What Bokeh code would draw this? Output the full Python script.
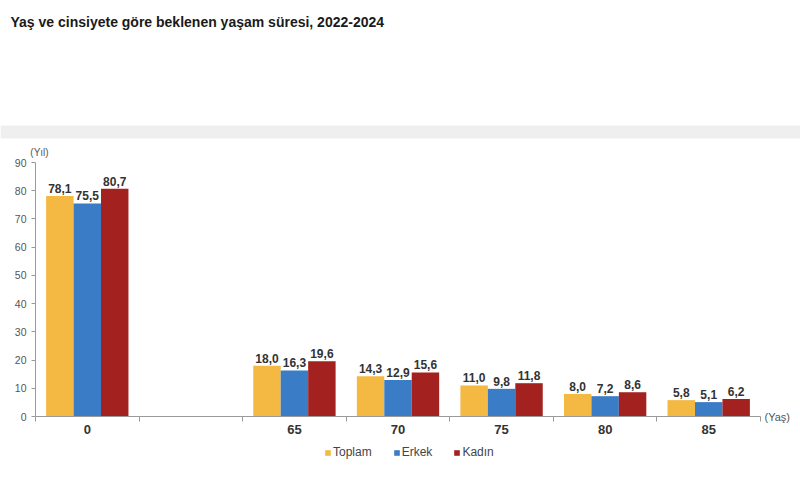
from bokeh.plotting import figure
from bokeh.models import (ColumnDataSource, FixedTicker, Legend, LegendItem, Range1d,
                          Label, BoxAnnotation)
from bokeh.core.properties import value
from bokeh.embed import file_html
from bokeh.resources import INLINE

# ---- data ----
title_text = "Yaş ve cinsiyete göre beklenen yaşam süresi, 2022-2024"
slots = ["0", "", "65", "70", "75", "80", "85"]          # x-axis slots (one empty)
age_groups = ["0", "65", "70", "75", "80", "85"]
toplam = [78.1, 18.0, 14.3, 11.0, 8.0, 5.8]
erkek = [75.5, 16.3, 12.9, 9.8, 7.2, 5.1]
kadin = [80.7, 19.6, 15.6, 11.8, 8.6, 6.2]
series_names = ["Toplam", "Erkek", "Kadın"]
y_ticks = [0, 10, 20, 30, 40, 50, 60, 70, 80, 90]

colors = ["#F3B943", "#3B7CC6", "#A3211F"]
FONT = "Liberation Sans"

# ---- layout geometry (pixels) ----
W, H = 800, 477
AX_X0, AX_X1 = 35, 760      # x-axis pixel extent
AX_Y0, AX_Y90 = 416, 162    # pixel rows of y = 0 and y = 90
n = len(slots)
ux = (AX_X1 - AX_X0) / n
uy = (AX_Y0 - AX_Y90) / 90
x_start, x_end = -AX_X0 / ux, (W - AX_X0) / ux
y_start, y_end = -(H - AX_Y0) / uy, AX_Y0 / uy

p = figure(width=W, height=H, x_range=Range1d(x_start, x_end),
           y_range=Range1d(y_start, y_end),
           output_backend="svg", toolbar_location=None, min_border=0)
p.grid.visible = False
p.outline_line_color = None

# header (screen units from the canvas bottom-left)
p.add_layout(BoxAnnotation(left=0, right=W, bottom=H - 138, top=H - 125,
                           left_units="screen", right_units="screen",
                           bottom_units="screen", top_units="screen",
                           fill_color="#EFEFEF", fill_alpha=1, line_color=None))
p.add_layout(Label(x=10, y=H - 21, x_units="screen", y_units="screen",
                   text=title_text, text_font=FONT, text_font_size="14px",
                   text_font_style="bold", text_color="#1a1a1a",
                   text_baseline="middle", text_align="left"))

centers = [slots.index(a) + 0.5 for a in age_groups]
bw = 0.265
offsets = [-bw, 0.0, bw]
renderers = []
for vals, off, col in zip([toplam, erkek, kadin], offsets, colors):
    xs = [c + off for c in centers]
    src = ColumnDataSource(dict(x=xs, top=vals,
                                lab=[f"{v:.1f}".replace(".", ",") for v in vals]))
    r = p.vbar(x="x", top="top", bottom=0, width=bw, source=src,
               fill_color=col, line_color=None)
    renderers.append(r)
    p.text(x="x", y="top", text="lab", source=src, text_font=value(FONT),
           text_font_size="12px", text_font_style="bold", text_color="#333333",
           text_align="center", text_baseline="bottom", y_offset=-3)

# axes (fixed at the data origin)
xa = p.xaxis[0]
xa.fixed_location = 0
xa.ticker = FixedTicker(ticks=[i + 0.5 for i in range(n)], minor_ticks=list(range(n + 1)))
xa.major_label_overrides = {i + 0.5: s for i, s in enumerate(slots)}
xa.major_tick_line_color = None
xa.major_tick_out = 0
xa.major_tick_in = 0
xa.minor_tick_in = 0
xa.minor_tick_out = 5
xa.minor_tick_line_color = "#9A9A9A"
xa.axis_line_color = "#9A9A9A"
xa.bounds = (0, n)
xa.major_label_text_font = FONT
xa.major_label_text_font_size = "13px"
xa.major_label_text_font_style = "bold"
xa.major_label_text_color = "#333333"
xa.major_label_standoff = 3

ya = p.yaxis[0]
ya.fixed_location = 0
ya.ticker = FixedTicker(ticks=y_ticks)
ya.bounds = (0, 90)
ya.axis_line_color = "#9A9A9A"
ya.major_tick_line_color = "#9A9A9A"
ya.major_tick_in = 0
ya.major_tick_out = 4
ya.minor_tick_line_color = None
ya.major_label_text_font = FONT
ya.major_label_text_font_size = "10.5px"
ya.major_label_text_color = "#555555"
ya.major_label_standoff = 5

# unit labels
p.text(x=[0.0], y=[90], text=["(Yıl)"], text_font=value(FONT), text_font_size="10px",
       text_color="#555555", text_align="center", text_baseline="bottom",
       x_offset=4, y_offset=-5)
p.text(x=[n], y=[0], text=["(Yaş)"], text_font=value(FONT), text_font_size="11px",
       text_color="#555555", text_align="left", text_baseline="middle", x_offset=4)

legend = Legend(items=[LegendItem(label=nm, renderers=[r]) for nm, r in zip(series_names, renderers)],
                orientation="horizontal", location=(324, H - 459))
legend.label_text_font = FONT
legend.label_text_font_size = "12px"
legend.label_text_color = "#444444"
legend.glyph_width = 7
legend.glyph_height = 7
legend.label_standoff = 2
legend.spacing = 21
legend.border_line_color = None
legend.background_fill_alpha = 0
legend.padding = 0
legend.margin = 0
p.add_layout(legend)

open("out.html", "w").write(file_html(p, INLINE))
